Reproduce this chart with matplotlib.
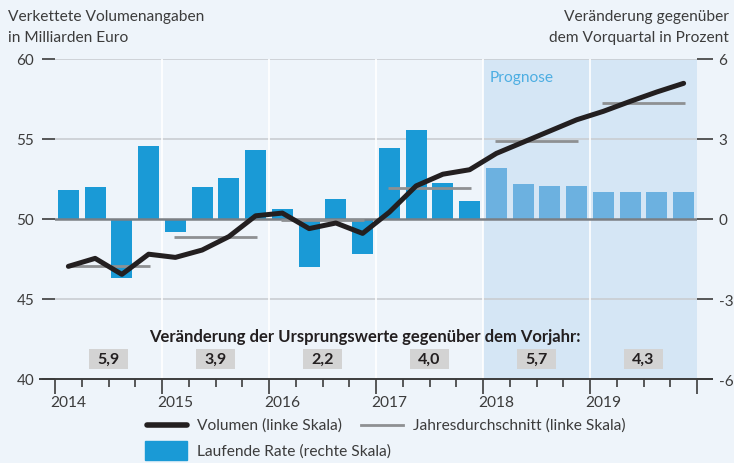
import matplotlib
matplotlib.use("Agg")
from matplotlib import pyplot as plt
import numpy as np

plt.rcParams['font.family'] = ['Lato', 'DejaVu Sans']

# Quartale 2014Q1 .. 2019Q4
quartale = np.arange(2014, 2020, 0.25) + 0.125
rate = [1.1, 1.2, -2.2, 2.75, -0.5, 1.2, 1.55, 2.6,
        0.37, -1.8, 0.75, -1.3, 2.66, 3.34, 1.35, 0.68,
        1.9, 1.3, 1.24, 1.24, 1.0, 1.0, 1.0, 1.0]
volumen = [47.04, 47.54, 46.54, 47.8, 47.6, 48.06, 48.9, 50.2,
           50.37, 49.4, 49.75, 49.1, 50.43, 52.07, 52.8, 53.08,
           54.1, 54.8, 55.5, 56.2, 56.73, 57.35, 57.94, 58.48]
jahre = [2014, 2015, 2016, 2017, 2018, 2019]
jahresschnitt = [47.05, 48.85, 49.94, 51.92, 54.88, 57.25]
vorjahr = ['5,9', '3,9', '2,2', '4,0', '5,7', '4,3']
prognose_ab = 16  # Index des ersten Prognosequartals

bg = '#EEF4FA'
txt = '#3C3C3C'
fs = 11.2
fig = plt.figure(figsize=(7.34, 4.64), dpi=100, facecolor=bg)
ax2 = fig.add_axes([55/734, 1-380/464, 642/734, 320/464])   # rechte Skala (Balken), hinten
ax2.set_facecolor(bg)
ax = ax2.twinx()                                            # Hilfsachse fuer linke Skala
ax2.yaxis.tick_right()
ax.yaxis.tick_left()

ax2.set_xlim(2014, 2020)
ax.set_ylim(40, 60)
ax2.set_ylim(-6, 6)

# Prognose-Bereich
ax2.axvspan(2018, 2020, color='#D5E6F5', zorder=0, lw=0)
ax.text(2018.06, 58.9, 'Prognose', color='#4DAEE2', fontsize=fs, va='center', ha='left')

# Gitter
for y in [-3, 3, 6]:
    ax2.axhline(y, color='#C9CDD2', lw=1.2, zorder=1)
for j in jahre[1:]:
    ax2.axvline(j, color='white', lw=1.2, zorder=1)

# Balken auf rechter Skala
farben = ['#1A9AD6' if i < prognose_ab else '#6CB1E0' for i in range(len(rate))]
ax2.bar(quartale, rate, width=0.195, color=farben, zorder=2)
ax2.axhline(0, color='#7B7F84', lw=1.8, zorder=3)

# Jahresdurchschnitt und Volumen
for j, w in zip(jahre, jahresschnitt):
    ax.plot([j + 0.115, j + 0.885], [w, w], color='#8E9092', lw=2, zorder=4, solid_capstyle='butt')
ax.plot(quartale, volumen, color='#231F20', lw=3.6, zorder=5, solid_capstyle='round', solid_joinstyle='round')

# Veränderung gegenüber Vorjahr
ax.text(2016.9, 42.7, 'Veränderung der Ursprungswerte gegenüber dem Vorjahr:',
        fontsize=12, fontweight='bold', ha='center', va='center', color='#231F20', zorder=6)
for j, v in zip(jahre, vorjahr):
    ax.add_patch(plt.Rectangle((j + 0.5 - 0.182, 40.6), 0.364, 1.3, fc='#D3D3D3', ec='none', zorder=5.5))
    ax.text(j + 0.5, 41.25, v, fontsize=11.5, fontweight='bold', ha='center', va='center',
            color='#231F20', zorder=6)

# Achsen (Tick-Laengen in Punkt)
for a in (ax, ax2):
    for s in a.spines.values():
        s.set_visible(False)
ax.set_yticks([40, 45, 50, 55, 60])
ax2.set_yticks([-6, -3, 0, 3, 6])
ax.tick_params(axis='y', length=9.5, width=1.2, color=txt, labelsize=11, labelcolor=txt, pad=5.5)
ax2.tick_params(axis='y', length=11.5, width=1.2, color=txt, labelsize=11, labelcolor=txt, pad=4)
ax2.set_yticklabels(['-6', '-3', '0', '3', '6'])
ax2.set_xticks(jahre + [2020])
ax2.set_xticklabels([])
ax2.set_xticks(np.arange(2014, 2020, 0.25), minor=True)
ax2.tick_params(axis='x', which='major', length=10.8, width=1.2, color=txt)
ax2.tick_params(axis='x', which='minor', length=5.8, width=1.2, color=txt)
for j in jahre:
    ax.text(j + 0.12, 38.55, str(j), fontsize=fs, ha='center', va='center', color=txt)
ax.plot([2014 - 15/107, 2020 + 15/107], [40, 40], color=txt, lw=1.4, clip_on=False, zorder=6)

# Titel der Skalen
fig.text(8/734, 1-17/464, 'Verkettete Volumenangaben', fontsize=fs, color=txt, va='center')
fig.text(8/734, 1-38/464, 'in Milliarden Euro', fontsize=fs, color=txt, va='center')
fig.text(729/734, 1-17/464, 'Veränderung gegenüber', fontsize=fs, color=txt, va='center', ha='right')
fig.text(729/734, 1-38/464, 'dem Vorquartal in Prozent', fontsize=fs, color=txt, va='center', ha='right')

# Legende
fig.lines.append(plt.Line2D([147/734, 187/734], [1-426/464, 1-426/464], transform=fig.transFigure,
                            color='#231F20', lw=4, solid_capstyle='round'))
fig.text(197/734, 1-426/464, 'Volumen (linke Skala)', fontsize=fs, color=txt, va='center')
fig.lines.append(plt.Line2D([361/734, 403/734], [1-426/464, 1-426/464], transform=fig.transFigure,
                            color='#8E9092', lw=2))
fig.text(413/734, 1-426/464, 'Jahresdurchschnitt (linke Skala)', fontsize=fs, color=txt, va='center')
fig.patches.append(plt.Rectangle((145/734, 1-461/464), 42/734, 19/464, transform=fig.transFigure,
                                 color='#1A9AD6'))
fig.text(197/734, 1-452/464, 'Laufende Rate (rechte Skala)', fontsize=fs, color=txt, va='center')

fig.savefig('out.png', dpi=100, facecolor=bg)
